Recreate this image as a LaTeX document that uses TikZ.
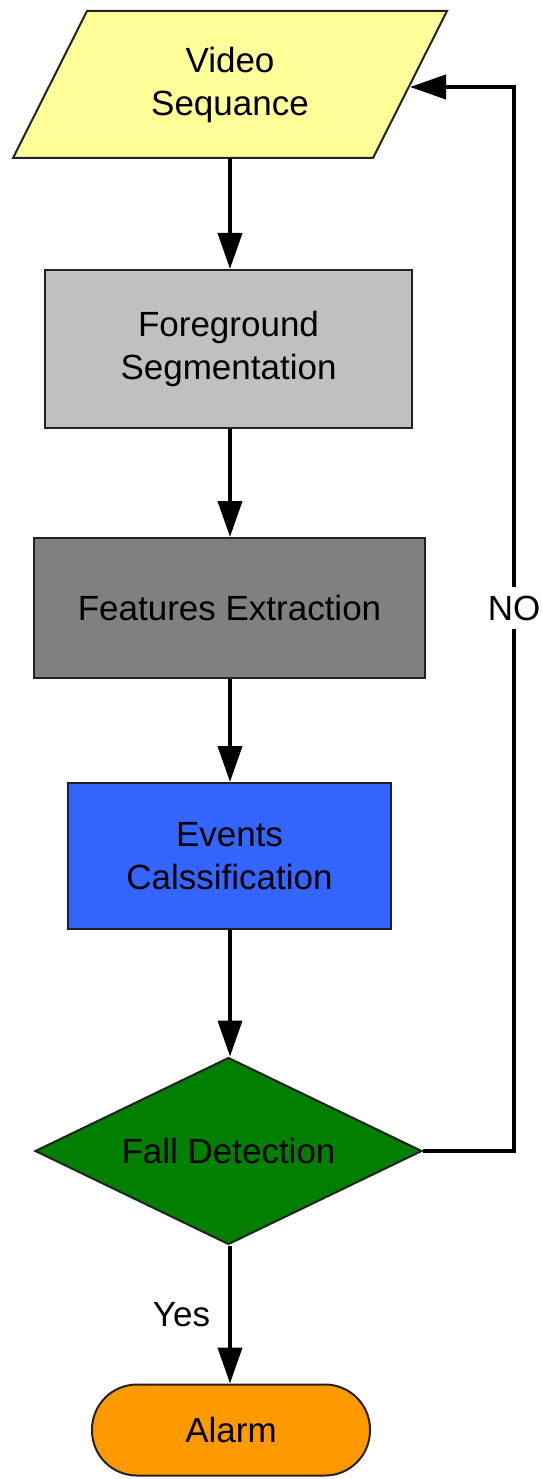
\documentclass[tikz,border=0pt]{standalone}
\usepackage{fontspec}
\setmainfont{Liberation Sans}
\usetikzlibrary{arrows.meta,shapes.geometric}

\definecolor{inputfill}{HTML}{FFFF99}
\definecolor{segfill}{HTML}{C0C0C0}
\definecolor{featfill}{HTML}{808080}
\definecolor{classfill}{HTML}{3366FF}
\definecolor{decfill}{HTML}{007F00}
\definecolor{alarmfill}{HTML}{FF9900}
\definecolor{edgeline}{HTML}{222222}

\newcommand\flowfont{\fontsize{35}{43}\selectfont}

\begin{document}
\begin{tikzpicture}[x=1pt,y=-1pt,
  shapeline/.style={draw=edgeline, line width=2pt},
  procbox/.style={shapeline, rectangle, inner sep=0pt, align=center, font=\flowfont},
  flowarrow/.style={line width=4pt, -{Triangle[length=36pt,width=24pt]}},
  flowlabel/.style={font=\flowfont, inner sep=0pt}]

\useasboundingbox (0,0) rectangle (541,1479);

% input parallelogram
\path[shapeline, fill=inputfill] (87,11) -- (447,11) -- (373,158) -- (13,158) -- cycle;
\node[flowlabel, align=center] (video) at (230,85) {Video\\Sequance};
\coordinate (videobottom) at (230,158);
\coordinate (videoright) at (410,87);

% processing steps
\node[procbox, fill=segfill, minimum width=367pt, minimum height=158pt]
  (seg) at (228.5,349) {Foreground\\Segmentation};
\node[procbox, fill=featfill, minimum width=391pt, minimum height=140pt]
  (feat) at (229.5,608) {Features Extraction};
\node[procbox, fill=classfill, minimum width=323pt, minimum height=146pt]
  (cls) at (229.5,856) {Events\\Calssification};

% decision
\node[shapeline, diamond, aspect=2.07, inner sep=0pt, fill=decfill,
  minimum width=387pt, minimum height=187pt, font=\flowfont]
  (fall) at (228.5,1151) {Fall Detection};

% terminal
\node[shapeline, rectangle, rounded corners=45pt, inner sep=0pt, fill=alarmfill,
  minimum width=278pt, minimum height=91pt, font=\flowfont]
  (alarm) at (231,1430) {Alarm};

% main flow
\draw[flowarrow] (videobottom) -- (videobottom |- seg.north);
\draw[flowarrow] (seg.south -| 230,0) -- (feat.north -| 230,0);
\draw[flowarrow] (feat.south -| 230,0) -- (cls.north -| 230,0);
\draw[flowarrow] (cls.south -| 230,0) -- (fall.north -| 230,0);
\draw[flowarrow] (fall.south -| 230,0) -- node[flowlabel, left=18pt] (yes) {Yes} (alarm.north -| 230,0);

% loop back when no fall is found
\coordinate (loopbottom) at (514,1151);
\coordinate (looptop) at (514,87);
\draw[flowarrow] (fall.east) -- (loopbottom) -- (looptop) -- (videoright);
\node[flowlabel, fill=white, inner sep=9pt] (no) at (514,608) {NO};

\end{tikzpicture}
\end{document}
